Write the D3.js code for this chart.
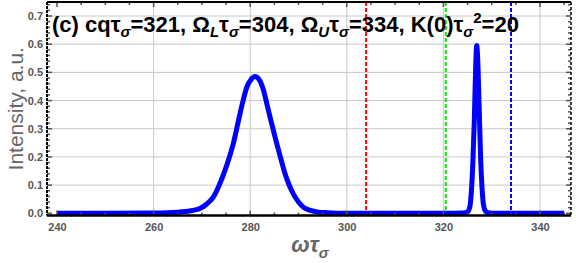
<!DOCTYPE html>
<html>
<head>
<meta charset="utf-8">
<script src="https://cdn.jsdelivr.net/npm/d3@7"></script>
<style>
  html, body { margin: 0; padding: 0; background: #fff; }
  svg { display: block; font-family: "Liberation Sans", Arial, sans-serif; }
</style>
</head>
<body>
<div id="chart"></div>
<script>
// spectrum
var omega = [240, 250, 260, 265, 268, 269.6, 271, 272.4, 273.6, 274.8, 275.7, 276.5, 277.2, 277.9,
  278.6, 279.3, 280.2, 281.0, 281.8, 282.7, 283.4, 284.1, 284.8, 285.5, 286.4, 287.2, 288.0, 288.9,
  290.0, 291.0, 292.3, 293.8, 296, 300, 310, 320, 324, 324.5, 325, 325.5, 325.8, 326.1, 326.4,
  326.7, 326.9, 327.1, 327.4, 327.7, 328.0, 328.3, 328.7, 329.2, 330, 335, 340, 345];
var intensity = [0.000, 0.000, 0.001, 0.004, 0.010, 0.017, 0.033, 0.058, 0.100, 0.153, 0.200, 0.247, 0.300, 0.354,
  0.405, 0.448, 0.475, 0.485, 0.476, 0.440, 0.392, 0.342, 0.294, 0.247, 0.190, 0.141, 0.103, 0.070,
  0.040, 0.022, 0.011, 0.005, 0.002, 0.000, 0.000, 0.000, 0.001, 0.002, 0.005, 0.025, 0.080, 0.180, 0.330,
  0.530, 0.595, 0.550, 0.380, 0.200, 0.090, 0.030, 0.008, 0.002, 0.000, 0.000, 0.000, 0.000];

// vertical markers: Omega_L, cq, Omega_U
var markerPos = [304, 320.5, 334];
var markerColor = ["#ff0000", "#00ee00", "#0000ff"];

var xTicks = [240, 260, 280, 300, 320, 340];
var yTicks = [0.0, 0.1, 0.2, 0.3, 0.4, 0.5, 0.6, 0.7];

var W = 576, H = 263;
var pLeft = 47, pRight = 571, pTop = 2, pBottom = 215.5;

var svg = d3.select("#chart").append("svg")
  .attr("width", W)
  .attr("height", H);

var x = d3.scaleLinear().domain([237.93, 346.42]).range([pLeft, pRight]);
var y = d3.scaleLinear().domain([-0.0078, 0.7497]).range([pBottom, pTop]);

// grid
svg.append("g").selectAll("line.gx")
  .data(xTicks.slice(1)).enter().append("line")
  .attr("x1", function(d) { return x(d); })
  .attr("x2", function(d) { return x(d); })
  .attr("y1", pTop).attr("y2", pBottom)
  .style("stroke", "#c8c8c8").style("stroke-width", 1);
svg.append("g").selectAll("line.gy")
  .data(yTicks.slice(1)).enter().append("line")
  .attr("y1", function(d) { return y(d); })
  .attr("y2", function(d) { return y(d); })
  .attr("x1", pLeft).attr("x2", pRight)
  .style("stroke", "#c8c8c8").style("stroke-width", 1);

// dashed markers
svg.append("g").selectAll("line.mk")
  .data(markerPos).enter().append("line")
  .attr("x1", function(d) { return x(d); })
  .attr("x2", function(d) { return x(d); })
  .attr("y1", pTop).attr("y2", pBottom)
  .style("stroke", function(d, i) { return markerColor[i]; })
  .style("stroke-width", 2)
  .style("stroke-dasharray", "4,2");

// spectrum
var pts = omega.map(function(d, i) { return [d, intensity[i]]; });
var line = d3.line()
  .x(function(d) { return x(d[0]); })
  .y(function(d) { return y(d[1]); })
  .curve(d3.curveMonotoneX);
svg.append("path")
  .datum(pts)
  .attr("d", line)
  .style("fill", "none")
  .style("stroke", "#0000ff")
  .style("stroke-width", 5)
  .style("stroke-linejoin", "round");

// frame with mathematica-style ticks
var xAxisB = d3.axisBottom(x).tickValues(xTicks).tickSize(0).tickPadding(8)
  .tickFormat(d3.format("d"));
var gx = svg.append("g").attr("transform", "translate(0," + pBottom + ")").call(xAxisB);
gx.select(".domain").remove();
gx.selectAll("text").style("font-size", "11px").style("font-weight", "bold").style("fill", "#555");

var yAxisL = d3.axisLeft(y).tickValues(yTicks).tickSize(0).tickPadding(4)
  .tickFormat(d3.format(".1f"));
var gy = svg.append("g").attr("transform", "translate(" + pLeft + ",0)").call(yAxisL);
gy.select(".domain").remove();
gy.selectAll("text").style("font-size", "11px").style("font-weight", "bold").style("fill", "#555");

var xMinor = d3.range(240, 346, 5);
var yMinor = d3.range(0, 0.75, 0.02);
var tk = svg.append("g").style("stroke", "#555").style("stroke-width", 1.5);
xMinor.forEach(function(v) {
  var len = (v % 20 === 0) ? 5 : 3;
  tk.append("line").attr("x1", x(v)).attr("x2", x(v)).attr("y1", pBottom).attr("y2", pBottom - len);
  tk.append("line").attr("x1", x(v)).attr("x2", x(v)).attr("y1", pTop).attr("y2", pTop + len);
});
yMinor.forEach(function(v) {
  var major = Math.abs(v * 10 - Math.round(v * 10)) < 1e-6;
  var len = major ? 5 : 3;
  tk.append("line").attr("y1", y(v)).attr("y2", y(v)).attr("x1", pLeft).attr("x2", pLeft + len);
  tk.append("line").attr("y1", y(v)).attr("y2", y(v)).attr("x1", pRight).attr("x2", pRight - len);
});

svg.append("line").attr("x1", pLeft).attr("x2", pRight).attr("y1", pBottom).attr("y2", pBottom)
  .style("stroke", "#000").style("stroke-width", 2.5);
svg.append("line").attr("x1", pLeft).attr("x2", pRight).attr("y1", pTop).attr("y2", pTop)
  .style("stroke", "#000").style("stroke-width", 2);
svg.append("line").attr("x1", pLeft).attr("x2", pLeft).attr("y1", pTop).attr("y2", pBottom)
  .style("stroke", "#000").style("stroke-width", 2).style("stroke-dasharray", "3,1");
svg.append("line").attr("x1", pRight).attr("x2", pRight).attr("y1", pTop).attr("y2", pBottom)
  .style("stroke", "#000").style("stroke-width", 1.5).style("stroke-dasharray", "3,2");

// axis labels
svg.append("text")
  .attr("transform", "translate(23," + ((pTop + pBottom) / 2) + ") rotate(-90)")
  .attr("text-anchor", "middle")
  .style("font-size", "21px")
  .style("fill", "#666")
  .text("Intensity, a.u.");

var xl = svg.append("text")
  .attr("x", 310).attr("y", 252)
  .attr("text-anchor", "middle")
  .style("font-size", "22px").style("font-weight", "bold").style("font-style", "italic")
  .style("fill", "#666");
xl.append("tspan").text("ωτ");
xl.append("tspan").attr("dy", 6).style("font-size", "15px").text("σ");

// title
var t = svg.append("text")
  .attr("x", 52).attr("y", 32)
  .style("font-size", "22px").style("font-weight", "bold").style("fill", "#000");
function sub(s, italic) {
  t.append("tspan").attr("dy", 5).style("font-size", "15px")
    .style("font-style", italic ? "italic" : "normal").text(s);
}
t.append("tspan").text("(c) cqτ");
sub("σ", true);
t.append("tspan").attr("dy", -5).text("=321, Ω");
sub("L", true);
t.append("tspan").attr("dy", -5).text("τ");
sub("σ", true);
t.append("tspan").attr("dy", -5).text("=304, Ω");
sub("U", true);
t.append("tspan").attr("dy", -5).text("τ");
sub("σ", true);
t.append("tspan").attr("dy", -5).text("=334, K(0)τ");
sub("σ", true);
t.append("tspan").attr("dy", -14).style("font-size", "15px").text("2");
t.append("tspan").attr("dy", 9).text("=20");
</script>
</body>
</html>
